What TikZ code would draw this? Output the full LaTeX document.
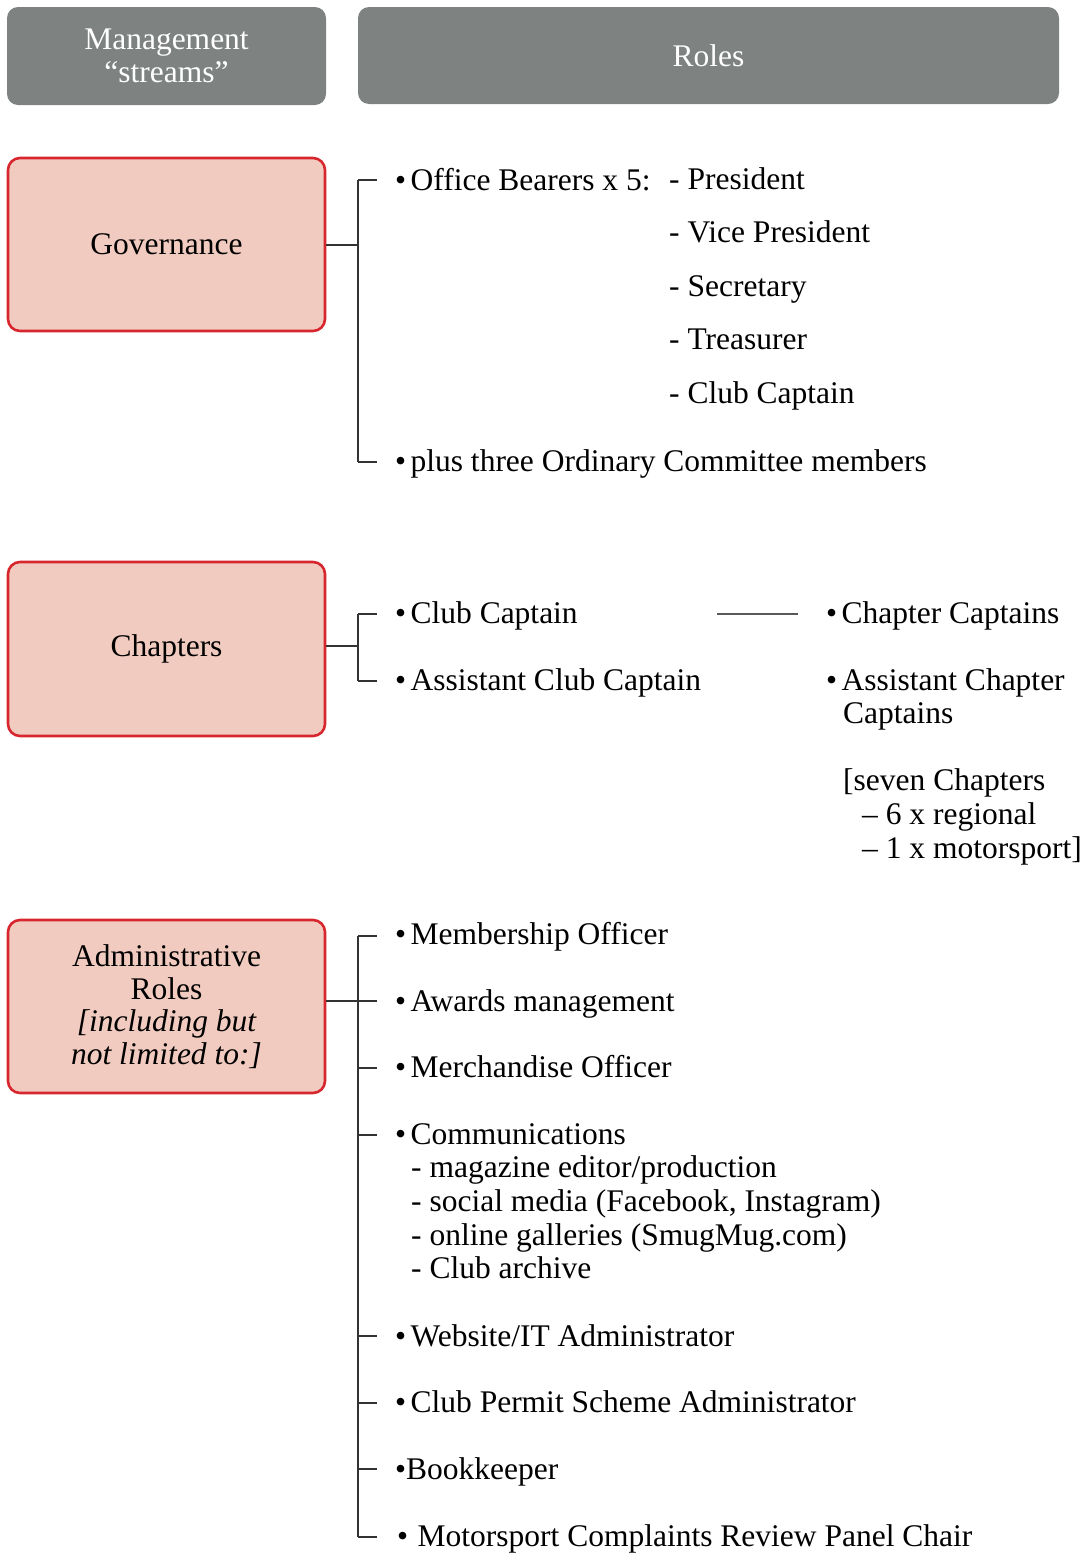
\documentclass[tikz,border=0pt]{standalone}
\usepackage{fontspec}
\setmainfont{Liberation Serif}
\definecolor{hdrgray}{HTML}{7E8382}
\definecolor{pinkfill}{HTML}{F2CBC0}
\definecolor{redline}{HTML}{D8262F}
\definecolor{linkgray}{HTML}{333333}
\newcommand{\bul}{•\hspace{0.14em}}
\begin{document}
\begin{tikzpicture}[x=1pt,y=-1pt,
  every node/.style={font=\fontsize{31.5}{33.6}\selectfont},
  hdr/.style={fill=hdrgray, rounded corners=11pt, text=white, align=center, inner sep=0pt},
  stream/.style={fill=pinkfill, draw=redline, line width=2.6pt, rounded corners=12pt, align=center, inner sep=0pt, minimum width=317pt, minimum height=173pt},
  item/.style={anchor=base west, inner sep=0pt},
  link/.style={draw=linkgray, line width=1.6pt},
  tick/.style={draw=linkgray, line width=1.3pt}]
\useasboundingbox (0,0) rectangle (1081,1553);

% headers
\node[hdr, minimum width=319pt, minimum height=98pt] (hm) at (166.5,56) {Management\\[-1pt]“streams”};
\node[hdr, minimum width=701pt, minimum height=97pt] (hr) at (708.5,55.5) {Roles};

% streams
\node[stream] (gov) at (166.5,244.5) {Governance};
\node[stream, minimum height=174pt] (chap) at (166.5,649) {Chapters};
\node[stream] (adm) at (166.5,1006.5) {Administrative\\[-1pt]Roles\\[-1pt]\itshape [including but\\[-1pt]\itshape not limited to:]};

% governance roles
\node[item] (ob) at (395,190) {\bul Office Bearers x 5:};
\node[item] (p1) at (669,189) {- President};
\node[item] (p2) at (669,242) {- Vice President};
\node[item] (p3) at (669,296) {- Secretary};
\node[item] (p4) at (669,349) {- Treasurer};
\node[item] (p5) at (669,403) {- Club Captain};
\node[item] (pl) at (395,471) {\bul plus three Ordinary Committee members};

\coordinate (gs) at (358,245);
\coordinate (gt1) at (358,180);
\coordinate (gt2) at (358,462);
\coordinate (ge1) at (377,180);
\coordinate (ge2) at (377,462);
\draw[link] (gov.east |- gs) -- (gs);
\draw[link] (gt1) -- (gt2);
\draw[tick] (gt1) -- (ge1);
\draw[tick] (gt2) -- (ge2);

% chapters roles
\node[item] (cc) at (395,623) {\bul Club Captain};
\node[item] (acc) at (395,690) {\bul Assistant Club Captain};
\node[item] (chc) at (826,623) {\bul Chapter Captains};
\node[item] (acp) at (826,690) {\bul Assistant Chapter};
\node[item] (acp2) at (843,723) {Captains};
\node[item] (sev) at (843,790) {[seven Chapters};
\node[item] (reg) at (862,824) {– 6 x regional};
\node[item] (mot) at (862,858) {– 1 x motorsport]};

\coordinate (cs) at (358,646);
\coordinate (ct1) at (358,614);
\coordinate (ct2) at (358,681);
\coordinate (ce1) at (377,614);
\coordinate (ce2) at (377,681);
\draw[link] (chap.east |- cs) -- (cs);
\draw[link] (ct1) -- (ct2);
\draw[tick] (ct1) -- (ce1);
\draw[tick] (ct2) -- (ce2);
\coordinate (cl1) at (717,614);
\coordinate (cl2) at (798,614);
\draw[draw=black!65, line width=1.5pt] (cl1) -- (cl2);

% administrative roles
\node[item] (a1) at (395,944) {\bul Membership Officer};
\node[item] (a2) at (395,1011) {\bul Awards management};
\node[item] (a3) at (395,1077) {\bul Merchandise Officer};
\node[item] (a4) at (395,1144) {\bul Communications};
\node[item] (a4a) at (411,1177) {- magazine editor/production};
\node[item] (a4b) at (411,1211) {- social media (Facebook, Instagram)};
\node[item] (a4c) at (411,1245) {- online galleries (SmugMug.com)};
\node[item] (a4d) at (411,1278) {- Club archive};
\node[item] (a5) at (395,1346) {\bul Website/IT Administrator};
\node[item] (a6) at (395,1412) {\bul Club Permit Scheme Administrator};
\node[item] (a7) at (395,1479) {•Bookkeeper};
\node[item] (a8) at (397,1546) {•\hspace{0.3em}Motorsport Complaints Review Panel Chair};

\coordinate (as) at (358,1001);
\coordinate (at1) at (358,936);
\coordinate (at8) at (358,1537);
\draw[link] (adm.east |- as) -- (as);
\draw[link] (at1) -- (at8);
\foreach \yy/\nm in {936/1,1001/2,1068/3,1135/4,1336/5,1403/6,1469/7,1537/8}{
  \coordinate (aa\nm) at (358,\yy);
  \coordinate (ab\nm) at (377,\yy);
  \draw[tick] (aa\nm) -- (ab\nm);
}
\end{tikzpicture}
\end{document}
